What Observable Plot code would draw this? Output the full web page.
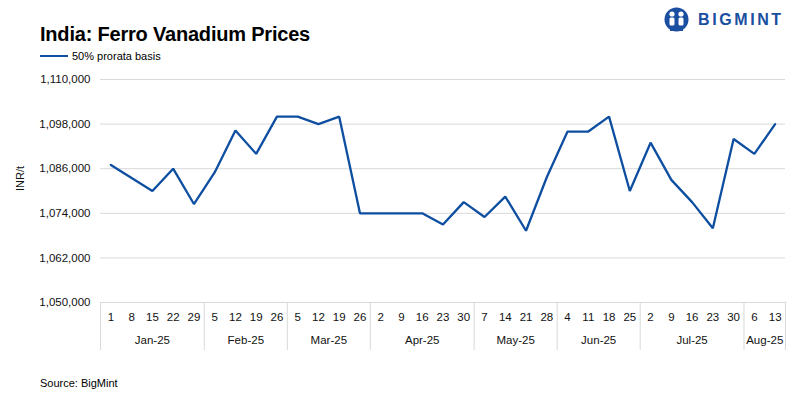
<!DOCTYPE html>
<html>
<head>
<meta charset="utf-8">
<script src="https://cdn.jsdelivr.net/npm/d3@7"></script>
<script src="https://cdn.jsdelivr.net/npm/@observablehq/plot@0.6"></script>
<style>
  html, body { margin: 0; padding: 0; background: #fff; }
  #wrap { position: relative; width: 801px; height: 399px; overflow: hidden; font-family: "Liberation Sans", Arial, sans-serif; color: #000; }
  #title { position: absolute; left: 40px; top: 23px; font-size: 20px; font-weight: bold; letter-spacing: -0.2px; }
  #legend { position: absolute; left: 40px; top: 50px; font-size: 11px; display: flex; align-items: center; }
  #legend .sw { display: inline-block; width: 28px; height: 2.5px; background: #0d4ea1; margin-right: 4px; }
  #chart { position: absolute; left: 0; top: 60px; }
  #source { position: absolute; left: 40px; top: 377px; font-size: 11px; }
  #logo { position: absolute; left: 664px; top: 7px; display: flex; align-items: center; }
  #logo .txt { font-weight: bold; font-size: 16px; letter-spacing: 2.6px; color: #1a4ea0; margin-left: 9px; }
</style>
</head>
<body>
<div id="wrap">
  <div id="title">India: Ferro Vanadium Prices</div>
  <div id="legend"><span class="sw"></span><span>50% prorata basis</span></div>
  <div id="logo">
    <svg width="25" height="26" viewBox="0 0 25 26">
      <circle cx="12.5" cy="12.5" r="12" fill="#1a4ea0"/>
      <circle cx="8" cy="7" r="2.6" fill="#fff"/>
      <circle cx="17" cy="7" r="2.6" fill="#fff"/>
      <rect x="5.5" y="10.5" width="5" height="8" rx="1.5" fill="#fff"/>
      <rect x="14.5" y="10.5" width="5" height="8" rx="1.5" fill="#fff"/>
      <rect x="11" y="5" width="3" height="18" fill="#1a4ea0"/>
      <rect x="6" y="19" width="13" height="5" fill="#1a4ea0"/>
    </svg>
    <span class="txt">BIGMINT</span>
  </div>
  <div id="chart"></div>
  <div id="source">Source: BigMint</div>
</div>
<script>
const weekLabels = ["1","8","15","22","29","5","12","19","26","5","12","19","26","2","9","16","23","30","7","14","21","28","4","11","18","25","2","9","16","23","30","6","13"];
const monthNames = ["Jan-25","Feb-25","Mar-25","Apr-25","May-25","Jun-25","Jul-25","Aug-25"];
const weeksPerMonth = [5,4,4,5,4,4,5,2];
const prices = [1087000,1083500,1080000,1086000,1076500,
                1085000,1096300,1090000,1100000,
                1100000,1098000,1100000,1074000,
                1074000,1074000,1074000,1071000,1077000,
                1073000,1078500,1069300,1083700,
                1096000,1096000,1100000,1080000,
                1093000,1083000,1077000,1070000,1094000,
                1090000,1098000];
const yTicks = [1050000,1062000,1074000,1086000,1098000,1110000];
const seriesName = "50% prorata basis";
const yLabel = "INR/t";

// derived helpers for the two-level category axis
const idx = weekLabels.map((d, i) => i);
let start = 0;
const months = monthNames.map((m, k) => {
  const s = start; start += weeksPerMonth[k];
  return {name: m, center: (s + start - 1) / 2, left: s - 0.5};
});
const bounds = months.map(d => d.left).concat([weekLabels.length - 0.5]);

const gridColor = "#d9d9d9";
const lineColor = "#0d4ea1";

const chart = Plot.plot({
  width: 801,
  height: 292,
  marginLeft: 100,
  marginRight: 16,
  marginTop: 19,
  marginBottom: 50,
  style: {fontFamily: "Liberation Sans, Arial, sans-serif", fontSize: "11.5px", color: "#000", background: "transparent"},
  x: {type: "linear", domain: [-0.5, weekLabels.length - 0.5], axis: null},
  y: {domain: [yTicks[0], yTicks[yTicks.length - 1]], axis: null},
  marks: [
    Plot.ruleY(yTicks, {stroke: gridColor, strokeWidth: 1}),
    Plot.ruleX(bounds, {y1: yTicks[0], y2: yTicks[0], insetBottom: -48, stroke: gridColor, strokeWidth: 1}),
    Plot.axisY({ticks: yTicks, tickSize: 0, tickPadding: 10, tickFormat: d3.format(","), label: null, fill: "#111"}),
    Plot.text([yLabel], {frameAnchor: "left", rotate: -90, dx: -80, fill: "#111", fontSize: 11}),
    Plot.text(weekLabels, {x: (d, i) => i, y: yTicks[0], text: d => d, dy: 15, fill: "#111"}),
    Plot.text(months, {x: "center", y: yTicks[0], text: "name", dy: 38, fill: "#111"}),
    Plot.line(prices, {x: (d, i) => idx[i], y: d => d, stroke: lineColor, strokeWidth: 2.3, strokeLinejoin: "miter"})
  ]
});
document.getElementById("chart").appendChild(chart);
</script>
</body>
</html>
